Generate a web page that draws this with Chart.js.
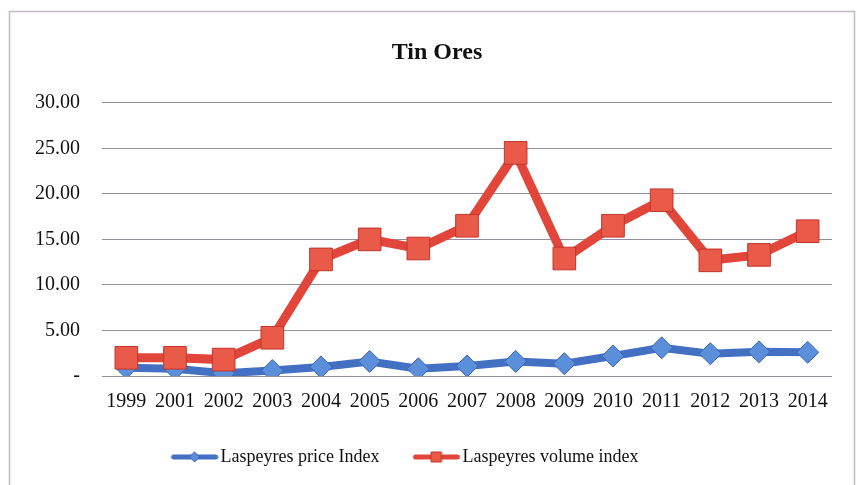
<!DOCTYPE html>
<html>
<head>
<meta charset="utf-8">
<script src="https://cdn.jsdelivr.net/npm/chart.js@4/dist/chart.umd.min.js"></script>
<style>
  html, body { margin: 0; padding: 0; background: #ffffff; }
  canvas { display: block; }
</style>
</head>
<body>
<canvas id="chart" width="857" height="485"></canvas>
<script>
// Tin ores: Laspeyres price and volume indices by year
const years = ['1999', '2001', '2002', '2003', '2004', '2005', '2006', '2007',
               '2008', '2009', '2010', '2011', '2012', '2013', '2014'];
const priceIndex = [0.9, 0.8, 0.3, 0.6, 1.0, 1.6, 0.8, 1.1, 1.6, 1.35, 2.2, 3.1, 2.45, 2.65, 2.6];
const volumeIndex = [2.0, 2.0, 1.8, 4.2, 12.8, 15.0, 14.0, 16.5, 24.5, 12.9, 16.5, 19.3, 12.7, 13.3, 15.9];
const yTicks = [0, 5, 10, 15, 20, 25, 30];

const FONT = '"Liberation Serif", "Times New Roman", serif';
const BLUE_LINE = '#4470c4';
const BLUE_FILL = '#5c8fda';
const BLUE_EDGE = '#3b66b5';
const RED_LINE = '#e2463a';
const RED_FILL = '#ea5a48';
const RED_EDGE = '#c2342b';

// Line-and-marker swatches for the legend (transparent lead-in on the left)
function swatch(lineColor, fill, edge, shape) {
  const c = document.createElement('canvas');
  const lead = 20;
  c.width = lead + 48; c.height = 14;
  const g = c.getContext('2d');
  g.strokeStyle = lineColor;
  g.lineWidth = 5;
  g.lineCap = 'round';
  g.beginPath(); g.moveTo(lead + 3, 7); g.lineTo(lead + 45, 7); g.stroke();
  g.fillStyle = fill; g.strokeStyle = edge; g.lineWidth = 1;
  g.beginPath();
  const cx = lead + 24;
  if (shape === 'diamond') {
    g.moveTo(cx, 2); g.lineTo(cx + 5, 7); g.lineTo(cx, 12); g.lineTo(cx - 5, 7); g.closePath();
  } else {
    g.rect(cx - 5, 2, 10, 10);
  }
  g.fill(); g.stroke();
  return c;
}
const blueSwatch = swatch(BLUE_LINE, BLUE_FILL, BLUE_EDGE, 'diamond');
const redSwatch = swatch(RED_LINE, RED_FILL, RED_EDGE, 'square');

// Thin outer frame around the whole chart
const framePlugin = {
  id: 'frame',
  beforeDraw(chart) {
    const ctx = chart.ctx;
    ctx.save();
    ctx.fillStyle = '#ffffff';
    ctx.fillRect(0, 0, chart.width, chart.height);
    ctx.strokeStyle = '#c4b9c6';
    ctx.lineWidth = 1.5;
    ctx.strokeRect(9.5, 11.5, 845, 490);
    ctx.restore();
  }
};

// Nudge the title right and the legend left after layout
const placementPlugin = {
  id: 'placement',
  afterLayout(chart) {
    const t = chart.titleBlock;
    if (t) { t.left += 11; t.right += 11; }
    const l = chart.legend;
    if (l) { l.left -= 28; l.right -= 28; }
  }
};

new Chart(document.getElementById('chart'), {
  type: 'line',
  data: {
    labels: years,
    datasets: [
      {
        label: 'Laspeyres price Index',
        data: priceIndex,
        borderColor: BLUE_LINE,
        borderWidth: 8,
        pointStyle: 'rectRot',
        pointRadius: 11,
        pointBackgroundColor: BLUE_FILL,
        pointBorderColor: BLUE_EDGE,
        pointBorderWidth: 1,
        tension: 0,
        order: 2
      },
      {
        label: 'Laspeyres volume index',
        data: volumeIndex,
        borderColor: RED_LINE,
        borderWidth: 9,
        pointStyle: 'rect',
        pointRadius: 16,
        pointBackgroundColor: RED_FILL,
        pointBorderColor: RED_EDGE,
        pointBorderWidth: 1,
        tension: 0,
        order: 1
      }
    ]
  },
  options: {
    responsive: false,
    animation: false,
    layout: { padding: { top: 30, left: 20, right: 25, bottom: 9 } },
    plugins: {
      title: {
        display: true,
        text: 'Tin Ores',
        color: '#111111',
        font: { family: FONT, size: 24, weight: 'bold' },
        padding: { top: 8, bottom: 36 }
      },
      legend: {
        position: 'bottom',
        labels: {
          usePointStyle: true,
          pointStyleWidth: 54,
          padding: 20,
          color: '#111111',
          font: { family: FONT, size: 18 },
          sort: (a, b) => a.datasetIndex - b.datasetIndex,
          generateLabels(chart) {
            const items = Chart.defaults.plugins.legend.labels.generateLabels(chart);
            items.forEach(it => {
              it.pointStyle = it.datasetIndex === 0 ? blueSwatch : redSwatch;
            });
            return items;
          }
        }
      },
      tooltip: { enabled: false }
    },
    scales: {
      x: {
        offset: true,
        grid: { display: false, drawTicks: false },
        border: { display: false },
        ticks: {
          color: '#111111',
          font: { family: FONT, size: 20 },
          padding: 14,
          maxRotation: 0,
          autoSkip: false
        }
      },
      y: {
        min: 0,
        max: 30,
        afterFit(scale) { scale.width = 82; },
        afterBuildTicks(scale) { scale.ticks = yTicks.map(v => ({ value: v })); },
        grid: { color: '#938fa0', lineWidth: 1, drawTicks: false },
        border: { display: false },
        ticks: {
          color: '#111111',
          font: { family: FONT, size: 20 },
          padding: 22,
          callback: v => (v === 0 ? '-' : v.toFixed(2))
        }
      }
    }
  },
  plugins: [framePlugin, placementPlugin]
});
</script>
</body>
</html>
